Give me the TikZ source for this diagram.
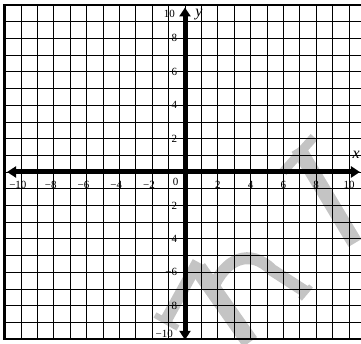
\documentclass[tikz,border=0pt]{standalone}
\usepackage{fontspec}
\setmainfont{Liberation Serif}
\usetikzlibrary{arrows.meta}

\definecolor{wmark}{gray}{0.77}
\tikzstyle{gridline} = [black, line width=0.7pt]
\tikzstyle{frame} = [black, line width=2.2pt]
\tikzstyle{axis} = [black, line width=5pt, {Triangle[length=9pt,width=11pt]}-{Triangle[length=9pt,width=11pt]}]
\tikzstyle{tick} = [font=\fontsize{11}{11}\selectfont, inner sep=0pt]
\tikzstyle{axlabel} = [font=\fontsize{16}{16}\selectfont\itshape, inner sep=0pt]
\tikzstyle{wm} = [wmark, line width=12pt]

\begin{document}
\begin{tikzpicture}[x=16.4pt, y=16.7pt]
\useasboundingbox (-185pt,-172pt) rectangle (176pt,172pt);

% watermark, in pixel units
\begin{scope}[shift={(-185pt,172pt)}, x=1pt, y=-1pt]
\draw[wm] (165,322) -- (198,262);
\draw[wm, line width=6pt] (155,315) -- (178,328);
\draw[wm, line width=17pt] (198,268) -- (250,342);
\draw[wm] (212,290) .. controls (225,258) and (250,248) .. (272,270) -- (306,292);
\draw[wm, line width=5pt] (300,299) -- (311,286);
\draw[wm, line width=15pt] (298,148) -- (355,243);
\draw[wm, line width=9pt] (283,172) -- (314,137);
\end{scope}

% grid
\foreach \i in {-10,...,10}
  \draw[gridline] (\i,-10) -- (\i,10);
\foreach \j in {-9,...,9}
  \draw[gridline] (-11,\j) -- (11,\j);
\draw[frame] (-11,-10) rectangle (11,10);

% axes
\coordinate (xl) at (-10.85,0);
\coordinate (xr) at (10.67,0);
\coordinate (yb) at (0,-10.05);
\coordinate (yt) at (0,9.85);
\draw[axis] (xl) -- (xr);
\draw[axis] (yb) -- (yt);
\node[axlabel] (xlab) at (10.43,1.0) {x};
\node[axlabel] (ylab) at (0.85,9.4) {y};

% numbers on the x-axis
\foreach \i in {2,4,...,10}{
  \node[tick] (xp\i) at (\i,-0.8) {\i};
  \node[tick] (xm\i) at (-\i,-0.8) {\llap{−}\i};
}
\node[tick] (orig) at (-0.57,-0.58) {0};

% numbers on the y-axis
\foreach \i in {2,4,6,8}{
  \node[tick, anchor=east] (yp\i) at (-0.47,\i) {\i};
  \node[tick, anchor=east] (ym\i) at (-0.47,-\i) {−\i};
}
\node[tick, anchor=east] (yp10) at (-0.61,9.46) {10};
\node[tick, anchor=east] (ym10) at (-0.73,-9.7) {−10};
\end{tikzpicture}
\end{document}
